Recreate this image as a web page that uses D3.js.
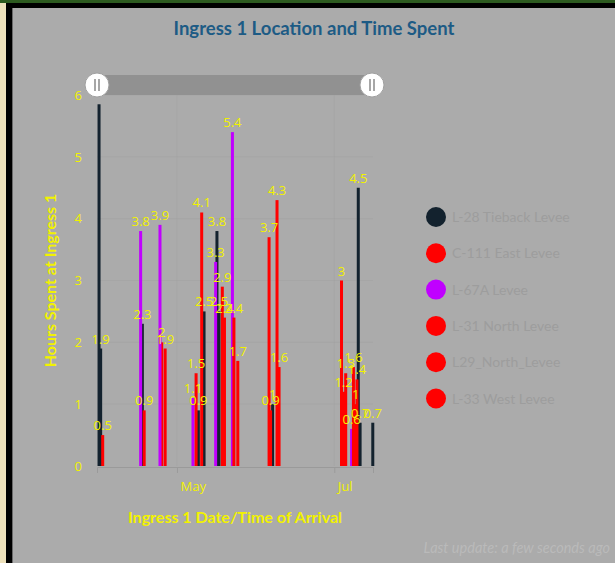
<!DOCTYPE html>
<html>
<head>
<meta charset="utf-8">
<script src="https://cdn.jsdelivr.net/npm/d3@7"></script>
<style>
  body { margin: 0; background: #ababab; }
  svg { display: block; }
  .tick text { font-family: "Open Sans", sans-serif; font-size: 13px; fill: #f2f200; }
</style>
</head>
<body>
<svg id="chart" width="615" height="563"></svg>
<script>
// Series data: [arrival date/time, hours spent]
const seriesNames = ['L-28 Tieback Levee', 'C-111 East Levee', 'L-67A Levee', 'L-31 North Levee', 'L29_North_Levee', 'L-33 West Levee']
const seriesColors = ['#13222e', '#ff0000', '#c000ff', '#ff0000', '#ff0000', '#ff0000']

const l28Tieback = [
  ['2023-03-31T19:00', 5.85], ['2023-04-01T10:00', 1.9], ['2023-04-17T14:00', 2.3],
  ['2023-05-09T07:00', 0.9], ['2023-05-11T12:00', 2.5], ['2023-05-16T12:00', 3.8],
  ['2023-05-17T07:00', 2.5], ['2023-06-07T02:00', 1], ['2023-07-10T07:00', 4.5],
  ['2023-07-11T00:00', 0.7], ['2023-07-15T22:00', 0.7]
]
const c111East = [
  ['2023-04-02T05:00', 0.5], ['2023-04-25T02:00', 2], ['2023-05-10T14:00', 4.1],
  ['2023-06-05T17:00', 3.7], ['2023-07-03T19:00', 3]
]
const l67a = [
  ['2023-04-16T22:00', 3.8], ['2023-04-24T10:00', 3.9], ['2023-05-07T05:00', 1.1],
  ['2023-05-16T00:00', 3.3], ['2023-05-22T12:00', 5.4], ['2023-07-07T17:00', 0.6]
]
const l31North = [
  ['2023-04-18T07:00', 0.9], ['2023-05-08T10:00', 1.5], ['2023-05-18T14:00', 2.9],
  ['2023-06-06T07:00', 0.9], ['2023-07-04T14:00', 1.2]
]
const l29North = [
  ['2023-04-26T10:00', 1.9], ['2023-05-19T10:00', 2.4], ['2023-05-23T02:00', 2.4],
  ['2023-06-08T19:00', 4.3], ['2023-07-05T10:00', 1.5], ['2023-07-08T10:00', 1.6]
]
const l33West = [
  ['2023-05-24T14:00', 1.7], ['2023-06-09T14:00', 1.6], ['2023-07-09T07:00', 1],
  ['2023-07-09T19:00', 1.4]
]
const allSeries = [l28Tieback, c111East, l67a, l31North, l29North, l33West]

const yTicks = [0, 1, 2, 3, 4, 5, 6]
const xTickDates = ['2023-05-01', '2023-07-01']
const xDomain = ['2023-03-31', '2023-07-16']

const parseTime = d3.timeParse('%Y-%m-%dT%H:%M')
const parseDay = d3.timeParse('%Y-%m-%d')

const svg = d3.select('#chart')
const W = 615, H = 563

// Panel and frame
svg.append('rect').attr('width', W).attr('height', H).attr('fill', '#ababab')
svg.append('rect').attr('x', 0).attr('y', 0).attr('width', 6).attr('height', H).attr('fill', '#ede1bb')
svg.append('rect').attr('x', 0).attr('y', 0).attr('width', W).attr('height', 3).attr('fill', '#2d5b20')
svg.append('rect').attr('x', 6).attr('y', 3).attr('width', W - 6).attr('height', 5).attr('fill', '#000')
svg.append('rect').attr('x', 6).attr('y', 3).attr('width', 6).attr('height', H - 3).attr('fill', '#000')
svg.append('rect').attr('x', 12).attr('y', 8).attr('width', 1).attr('height', H - 8).attr('fill', '#6a6a6a')

// Title
svg.append('text')
  .attr('x', 314).attr('y', 35)
  .attr('text-anchor', 'middle')
  .attr('font-family', 'Lato, sans-serif')
  .attr('font-weight', 'bold')
  .attr('font-size', 18.5)
  .attr('fill', '#1d5b85')
  .text('Ingress 1 Location and Time Spent')

const plot = { left: 97, right: 373, top: 95, bottom: 466 }

const x = d3.scaleTime()
  .domain(xDomain.map(parseDay))
  .range([plot.left, plot.right])
const y = d3.scaleLinear()
  .domain([0, 6])
  .range([plot.bottom, plot.top])

// Grid
svg.append('g')
  .selectAll('line')
  .data(yTicks.slice(1))
  .join('line')
  .attr('x1', plot.left).attr('x2', plot.right)
  .attr('y1', (d) => y(d)).attr('y2', (d) => y(d))
  .attr('stroke', '#9f9f9f').attr('stroke-opacity', 0.35)
svg.append('g')
  .selectAll('line')
  .data(xTickDates.map(parseDay))
  .join('line')
  .attr('x1', (d) => x(d)).attr('x2', (d) => x(d))
  .attr('y1', plot.top).attr('y2', plot.bottom)
  .attr('stroke', '#9f9f9f').attr('stroke-opacity', 0.35)

// Y axis
const yAxis = svg.append('g')
  .attr('transform', `translate(${plot.left},0)`)
  .call(d3.axisLeft(y).tickValues(yTicks).tickSize(0).tickPadding(15).tickFormat(d3.format('d')))
yAxis.select('.domain').remove()

// X axis
const xAxis = svg.append('g')
  .attr('transform', `translate(0,${plot.bottom + 1})`)
  .call(d3.axisBottom(x).tickValues(xTickDates.map(parseDay)).tickSize(6).tickPadding(9).tickFormat(d3.timeFormat('%b')))
xAxis.select('.domain').attr('stroke', '#9a9a9a')
xAxis.selectAll('.tick line').attr('stroke', '#9a9a9a')
xAxis.selectAll('.tick text').attr('text-anchor', 'start').attr('dx', 3)

// Axis titles
svg.append('text')
  .attr('transform', `translate(56,${(plot.top + plot.bottom) / 2}) rotate(-90)`)
  .attr('text-anchor', 'middle')
  .attr('font-family', 'Lato, sans-serif')
  .attr('font-weight', 'bold')
  .attr('font-size', 16)
  .attr('fill', '#f2f200')
  .text('Hours Spent at Ingress 1')
svg.append('text')
  .attr('x', 235).attr('y', 523)
  .attr('text-anchor', 'middle')
  .attr('font-family', 'Lato, sans-serif')
  .attr('font-weight', 'bold')
  .attr('font-size', 16)
  .attr('fill', '#f2f200')
  .text('Ingress 1 Date/Time of Arrival')

// Bars
const barW = 3
allSeries.forEach((series, i) => {
  svg.append('g')
    .selectAll('rect')
    .data(series)
    .join('rect')
    .attr('x', (d) => x(parseTime(d[0])) - barW / 2)
    .attr('y', (d) => y(d[1]))
    .attr('width', barW)
    .attr('height', (d) => y(0) - y(d[1]))
    .attr('fill', seriesColors[i])
})

// Value labels (hidden where the slider covers them)
const sliderY = 75, sliderH = 20
allSeries.forEach((series) => {
  svg.append('g')
    .selectAll('text')
    .data(series.filter((d) => y(d[1]) - 15 > sliderY + sliderH))
    .join('text')
    .attr('x', (d) => x(parseTime(d[0])))
    .attr('y', (d) => y(d[1]) - 5)
    .attr('text-anchor', 'middle')
    .attr('font-family', '"Open Sans", sans-serif')
    .attr('font-size', 13)
    .attr('fill', '#f2f200')
    .text((d) => d[1])
})

// Scrollbar
svg.append('rect')
  .attr('x', plot.left).attr('y', sliderY)
  .attr('width', plot.right - plot.left - 1).attr('height', sliderH)
  .attr('fill', '#919191')
;[plot.left, plot.right - 1].forEach((cx) => {
  const g = svg.append('g').attr('transform', `translate(${cx},${sliderY + sliderH / 2})`)
  g.append('circle').attr('r', 12).attr('fill', '#fff').attr('stroke', '#a0a0a0')
  g.append('line').attr('x1', -2).attr('x2', -2).attr('y1', -6).attr('y2', 6).attr('stroke', '#8a8a8a').attr('stroke-width', 1.5)
  g.append('line').attr('x1', 2).attr('x2', 2).attr('y1', -6).attr('y2', 6).attr('stroke', '#8a8a8a').attr('stroke-width', 1.5)
})

// Legend
const legend = svg.append('g')
  .selectAll('g')
  .data(seriesNames)
  .join('g')
  .attr('transform', (d, i) => `translate(436,${217 + i * 36.3})`)
legend.append('circle').attr('r', 10).attr('fill', (d, i) => seriesColors[i])
legend.append('text')
  .attr('x', 16).attr('y', 5)
  .attr('font-family', 'Lato, sans-serif')
  .attr('font-size', 14)
  .attr('fill', '#9d9d9d')
  .text((d) => d)

// Footer
svg.append('text')
  .attr('x', 610).attr('y', 553)
  .attr('text-anchor', 'end')
  .attr('font-family', 'Lato, sans-serif')
  .attr('font-style', 'italic')
  .attr('font-size', 14.5)
  .attr('fill', '#bababa')
  .text('Last update: a few seconds ago')
</script>
</body>
</html>
